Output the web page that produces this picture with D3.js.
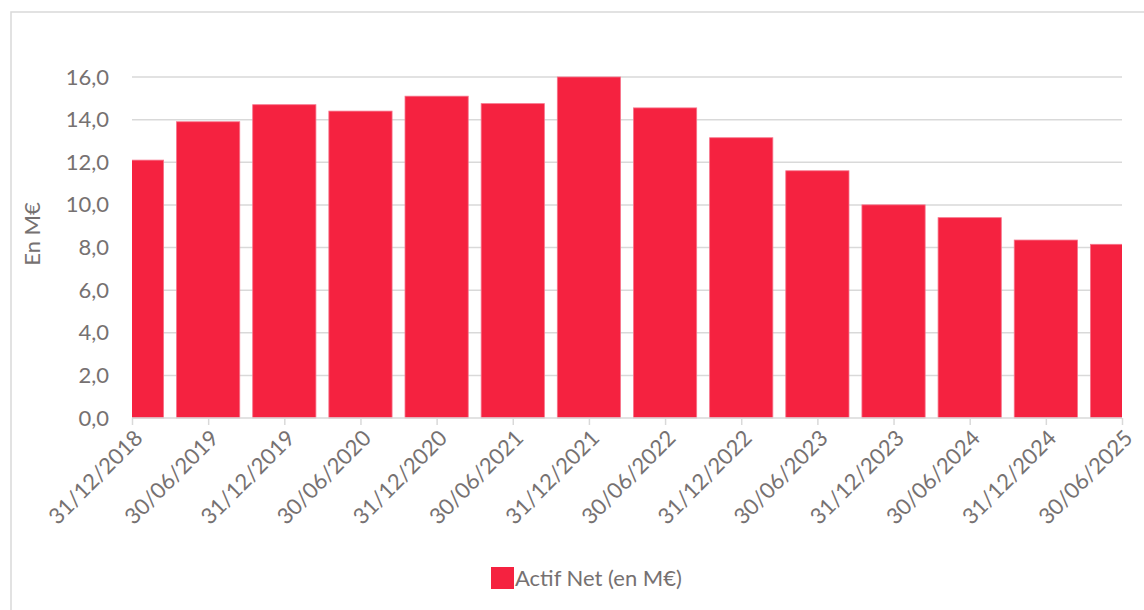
<!DOCTYPE html>
<html>
<head>
<meta charset="utf-8">
<script src="https://cdn.jsdelivr.net/npm/d3@7/dist/d3.min.js"></script>
<style>
  html, body { margin: 0; padding: 0; background: #fff; }
  svg { display: block; font-family: Lato, "Open Sans", sans-serif; }
</style>
</head>
<body>
<svg id="chart" width="1144" height="610"></svg>
<script>
const categories = ["31/12/2018","30/06/2019","31/12/2019","30/06/2020","31/12/2020","30/06/2021","31/12/2021","30/06/2022","31/12/2022","30/06/2023","31/12/2023","30/06/2024","31/12/2024","30/06/2025"];
const actifNet = [12.1, 13.9, 14.7, 14.4, 15.1, 14.75, 16.0, 14.55, 13.15, 11.6, 10.0, 9.4, 8.35, 8.15];
const yTicks = [0, 2, 4, 6, 8, 10, 12, 14, 16];
const seriesName = "Actif Net (en M€)";
const yTitle = "En M€";

const svg = d3.select("#chart");
const W = 1144, H = 610;
const plot = { left: 132, right: 1122, top: 77, bottom: 418 };
const textColor = "#767171";
const gridColor = "#d9d9d9";
const barColor = "#f52240";
const fs = "22px";

// outer border
svg.append("rect").attr("x", 11).attr("y", 12).attr("width", W).attr("height", H)
  .attr("fill", "none").attr("stroke", gridColor).attr("stroke-width", 1.5);

const x = d3.scalePoint().domain(categories).range([plot.left, plot.right]).padding(0);
const step = x.step();
const bw = step * 0.83;
const y = d3.scaleLinear().domain([0, 16]).range([plot.bottom, plot.top]);

// gridlines
svg.append("g").selectAll("line").data(yTicks.filter(d => d > 0)).join("line")
  .attr("x1", plot.left).attr("x2", plot.right)
  .attr("y1", d => y(d)).attr("y2", d => y(d))
  .attr("stroke", gridColor).attr("stroke-width", 1.5);

// clip
svg.append("clipPath").attr("id", "plotclip").append("rect")
  .attr("x", plot.left).attr("y", 0).attr("width", plot.right - plot.left).attr("height", plot.bottom + 2);

svg.append("g").attr("clip-path", "url(#plotclip)")
  .selectAll("rect").data(categories).join("rect")
  .attr("x", (d) => x(d) - bw / 2)
  .attr("width", bw)
  .attr("y", (d, i) => y(actifNet[i]))
  .attr("height", (d, i) => y(0) - y(actifNet[i]))
  .attr("fill", barColor)
  .attr("stroke", "#f7738a").attr("stroke-width", 0.8);

// y axis labels
const yAxis = d3.axisLeft(y).tickValues(yTicks).tickSize(0).tickPadding(23)
  .tickFormat(d => d3.format(".1f")(d).replace(".", ","));
const gy = svg.append("g").attr("transform", `translate(${plot.left},0)`).call(yAxis);
gy.select(".domain").remove();
gy.selectAll("text").attr("fill", textColor).style("font-size", fs).style("font-family", "Lato, sans-serif");

// x axis
const xAxis = d3.axisBottom(x).tickSize(7).tickSizeOuter(0).tickPadding(0);
const gx = svg.append("g").attr("transform", `translate(0,${plot.bottom})`).call(xAxis);
gx.select(".domain").attr("stroke", gridColor).attr("stroke-width", 1.5)
  .attr("d", `M${plot.left},0H${plot.right}`);
gx.selectAll(".tick line").attr("stroke", gridColor).attr("stroke-width", 1.5);
gx.selectAll("text")
  .attr("fill", textColor).style("font-size", fs).style("font-family", "Lato, sans-serif")
  .attr("text-anchor", "end")
  .attr("transform", "translate(6,16) rotate(-45)")
  .attr("dy", "0.35em").attr("y", 0).attr("x", 0);

// y title
svg.append("text")
  .attr("transform", `translate(40,234) rotate(-90)`)
  .attr("text-anchor", "middle")
  .attr("fill", textColor).style("font-size", fs)
  .text(yTitle);

// legend
const lg = svg.append("g");
lg.append("rect").attr("x", 491).attr("y", 567).attr("width", 23).attr("height", 22).attr("fill", barColor);
lg.append("text").attr("x", 515).attr("y", 578).attr("dy", "0.35em")
  .attr("fill", textColor).style("font-size", fs).text(seriesName);
</script>
</body>
</html>
